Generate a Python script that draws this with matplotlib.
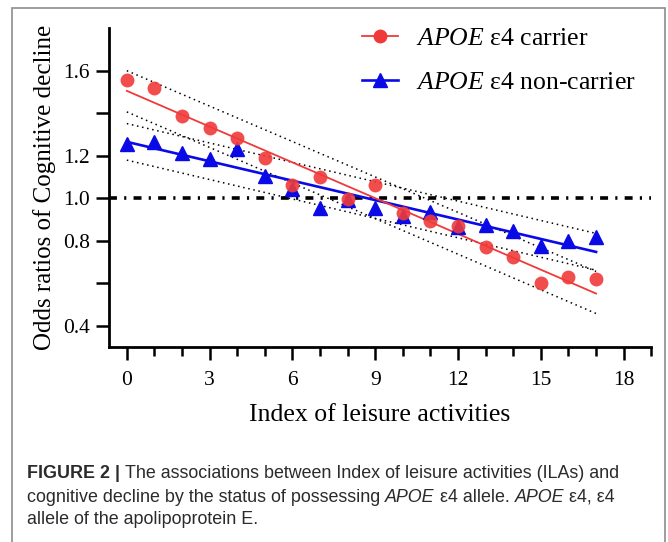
import matplotlib
matplotlib.use("Agg")
import matplotlib.pyplot as plt
from matplotlib.patches import Rectangle
from matplotlib.ticker import MultipleLocator

# values
index = list(range(18))
carrier = [1.557, 1.518, 1.386, 1.328, 1.281, 1.187, 1.061, 1.100, 0.997, 1.060,
           0.930, 0.891, 0.869, 0.770, 0.721, 0.599, 0.630, 0.621]
non_carrier = [1.253, 1.265, 1.213, 1.182, 1.231, 1.104, 1.045, 0.952, 0.992, 0.956,
               0.918, 0.936, 0.864, 0.876, 0.847, 0.775, 0.796, 0.816]

# fitted lines and their bands (values at index 0 and 17)
fit_x = [0, 17]
carrier_fit = [1.505, 0.551]
carrier_upper = [1.600, 0.655]
carrier_lower = [1.406, 0.457]
non_carrier_fit = [1.265, 0.747]
non_carrier_upper = [1.351, 0.834]
non_carrier_lower = [1.179, 0.661]

ytick_vals = [0.4, 0.6, 0.8, 1.0, 1.2, 1.4, 1.6]
ytick_labels = ["0.4", "", "0.8", "1.0", "1.2", "", "1.6"]
xtick_vals = [0, 3, 6, 9, 12, 15, 18]

red = "#f03a3a"
blue = "#0a0ae6"
serif = "Liberation Serif"
sans = "Liberation Sans"

plt.rcParams["mathtext.fontset"] = "custom"
plt.rcParams["mathtext.rm"] = "Liberation Serif"
plt.rcParams["mathtext.it"] = "Liberation Serif:italic"

fig = plt.figure(figsize=(6.68, 5.42), dpi=100)
ax = fig.add_axes([0.163, 0.360, 0.812, 0.588])

# confidence bands
for band in (carrier_upper, carrier_lower, non_carrier_upper, non_carrier_lower):
    ax.plot(fit_x, band, color="black", lw=1.1, linestyle=(0, (1, 2.4)), zorder=2)

ax.axhline(1.0, color="black", lw=2.6, linestyle=(0, (2.2, 2.0, 0.6, 2.0)), zorder=2)

ax.plot(fit_x, non_carrier_fit, color=blue, lw=1.9, zorder=3)
ax.plot(fit_x, carrier_fit, color=red, lw=1.3, zorder=3)

ax.plot(index, non_carrier, linestyle="none", marker="^", ms=10.5, color=blue, zorder=4)
ax.plot(index, carrier, linestyle="none", marker="o", ms=10, color=red, alpha=0.9,
        markeredgewidth=0, zorder=5)

# legend handles
h1, = ax.plot([], [], color=red, lw=1.3, marker="o", ms=10, markeredgewidth=0)
h2, = ax.plot([], [], color=blue, lw=1.9, marker="^", ms=10.5)
leg = ax.legend([h1, h2],
                [r"$\mathit{APOE}$ ε4 carrier", r"$\mathit{APOE}$ ε4 non-carrier"],
                loc="upper left", bbox_to_anchor=(362 / 668, 1 - 27 / 542),
                bbox_transform=fig.transFigure, frameon=False, borderpad=0,
                borderaxespad=0, handlelength=1.4, handletextpad=0.7,
                labelspacing=0.8, prop={"family": serif, "size": 18.5})

ax.set_xlim(-0.65, 19.0)
ax.set_ylim(0.3, 1.8)
ax.set_xticks(xtick_vals)
ax.set_xticklabels([str(v) for v in xtick_vals], family=serif, fontsize=15.5)
ax.xaxis.set_minor_locator(MultipleLocator(1))
ax.set_yticks(ytick_vals)
ax.set_yticklabels(ytick_labels, family=serif, fontsize=15.5)

for side in ("top", "right"):
    ax.spines[side].set_visible(False)
for side in ("left", "bottom"):
    ax.spines[side].set_linewidth(2.0)
ax.tick_params(axis="both", which="major", width=1.8, length=9.5, direction="out")
ax.tick_params(axis="x", which="major", pad=8)
ax.tick_params(axis="y", which="major", pad=4)
ax.tick_params(axis="x", which="minor", width=1.8, length=6.5, direction="out")

ax.set_xlabel("Index of leisure activities", family=serif, fontsize=18.5, labelpad=10)
ax.set_ylabel("Odds ratios of Cognitive decline", family=serif, fontsize=18, labelpad=5)

# frame round the whole figure
fig.patches.append(Rectangle((12 / 668, -0.05), 653 / 668, 1 - 8 / 542 + 0.05,
                             transform=fig.transFigure, fill=False,
                             edgecolor="#8c8c8c", lw=1.2))

# caption with mixed styles
renderer = fig.canvas.get_renderer()


def caption_line(y, pieces):
    x = 27 / 668
    for txt, weight, style in pieces:
        t = fig.text(x, y, txt, family=sans, fontsize=12.9, weight=weight,
                     style=style, color="#2b2b2b", va="baseline")
        bb = t.get_window_extent(renderer)
        x += bb.width / fig.bbox.width


caption_line(1 - 478 / 542, [
    ("FIGURE 2 | ", "bold", "normal"),
    ("The associations between Index of leisure activities (ILAs) and", "normal", "normal"),
])
caption_line(1 - 502 / 542, [
    ("cognitive decline by the status of possessing ", "normal", "normal"),
    ("APOE", "normal", "italic"),
    (" ε4 allele. ", "normal", "normal"),
    ("APOE", "normal", "italic"),
    (" ε4, ε4", "normal", "normal"),
])
caption_line(1 - 524 / 542, [
    ("allele of the apolipoprotein E.", "normal", "normal"),
])

fig.savefig("out.png", dpi=100)
